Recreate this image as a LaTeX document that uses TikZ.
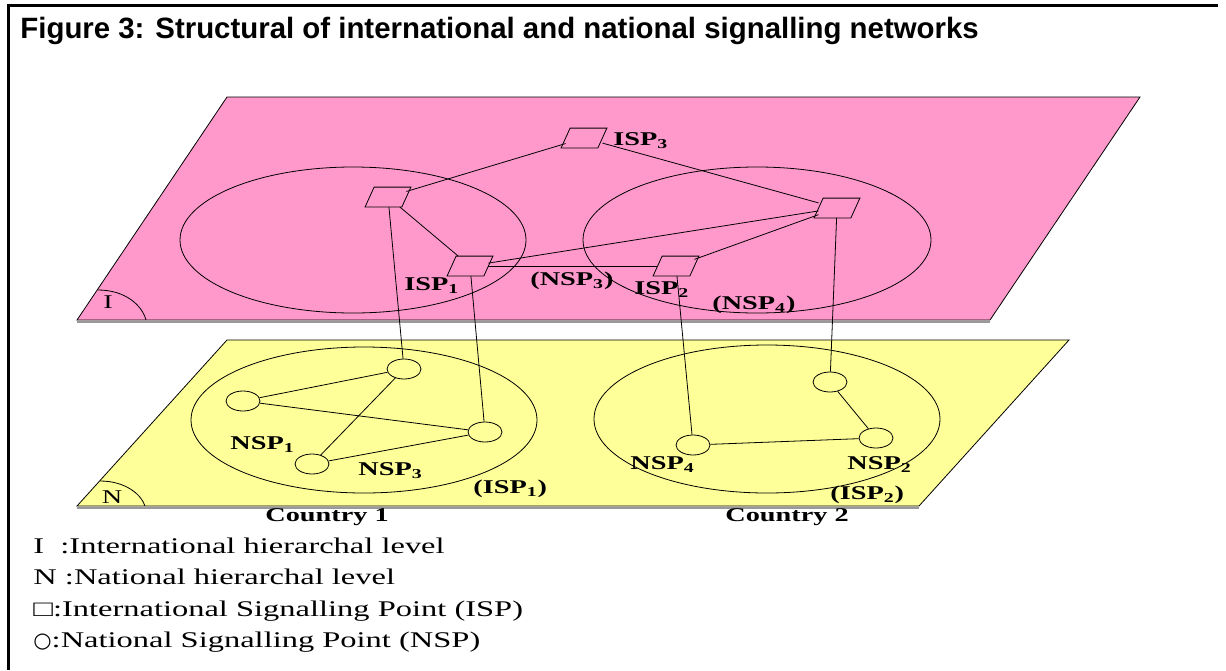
\documentclass[tikz,border=0pt]{standalone}
\usepackage{fontspec}
\setmainfont{Liberation Serif}
\newfontfamily\titlefont{Liberation Sans}
\newfontfamily\figfont[FakeStretch=1.45]{Liberation Serif}
\newfontfamily\symfont{DejaVu Sans}
\usetikzlibrary{shapes.geometric}
\definecolor{intpink}{RGB}{255,153,204}
\definecolor{natyellow}{RGB}{255,255,153}

\begin{document}
\begin{tikzpicture}[x=0.5pt,y=-0.5pt,
  isp/.style={rectangle,inner sep=0pt,minimum width=18pt,minimum height=9.5pt},
  nsp/.style={draw,fill=natyellow,ellipse,minimum width=17pt,minimum height=10pt,inner sep=0pt},
  lbl/.style={font=\figfont\bfseries\fontsize{9.75}{10}\selectfont,inner sep=0pt,anchor=base west},
  legend/.style={font=\figfont\fontsize{11.2}{12}\selectfont,inner sep=0pt,anchor=base west}]
\useasboundingbox (0,0) rectangle (1226,670);

%Frame and title
\draw[line width=1.5pt] (8,670)--(8,5)--(1218,5);
\node[anchor=base west,inner sep=0pt,font=\titlefont\bfseries\fontsize{14.7}{16}\selectfont] (title) at (20,38)
  {Figure 3: Structural of international and national signalling networks};

%International plane
\draw[fill=intpink] (77,320)--(227,97)--(1140,97)--(990,320)--cycle;
\draw[black!40,line width=1pt] (77,321.5)--(990,321.5);
\draw (98,290) .. controls (125,290) and (142,305) .. (146,320);
\node[lbl,font=\figfont\fontsize{9.75}{10}\selectfont,anchor=center] (ilevel) at (108,302) {I};
\draw (353,240) ellipse [x radius=86.5pt,y radius=36.5pt];
\draw (757,240) ellipse [x radius=87pt,y radius=36.5pt];

%National plane
\draw[fill=natyellow] (77,506)--(227,340)--(1069,340)--(919,506)--cycle;
\draw[black!40,line width=1pt] (77,507.5)--(919,507.5);
\draw (100,481) .. controls (125,481) and (141,494) .. (145,506);
\node[lbl,font=\figfont\fontsize{9.75}{10}\selectfont,anchor=center] (nlevel) at (112,497) {N};
\draw (364,420) ellipse [x radius=86.5pt,y radius=36.5pt];
\draw (767,419) ellipse [x radius=86.5pt,y radius=37pt];

%ISP nodes
\node[isp] (isp3) at (584,138) {};
\node[isp] (ispl) at (388,197) {};
\node[isp] (isp1) at (470,266) {};
\node[isp] (isp2) at (676,266) {};
\node[isp] (ispr) at (837,208) {};
\foreach \n in {isp3,ispl,isp1,isp2,ispr}
  \draw[fill=intpink] ([xshift=-2.25pt]\n.south west)--([xshift=2.25pt]\n.north west)
    --([xshift=2.25pt]\n.north east)--([xshift=-2.25pt]\n.south east)--cycle;

%NSP nodes
\node[nsp] (nspt1) at (404,369) {};
\node[nsp] (nsp1) at (243,401) {};
\node[nsp] (nspr1) at (485,432) {};
\node[nsp] (nsp3) at (312,464) {};
\node[nsp] (nspt2) at (830,382) {};
\node[nsp] (nsp4) at (693,445) {};
\node[nsp] (nsp2) at (876,438) {};

%Links in international level
\draw (isp3)--(ispl);
\draw (isp3)--(ispr);
\draw (ispl)--(isp1);
\draw (isp1)--(ispr);
\draw (isp1)--(isp2);
\draw (isp2)--(ispr);

%Links between levels
\draw (ispl)--(nspt1);
\draw (isp1)--(nspr1);
\draw (isp2)--(nsp4);
\draw (ispr)--(nspt2);

%Links in national level
\draw (nsp1)--(nspt1);
\draw (nsp1)--(nspr1);
\draw (nspt1)--(nsp3);
\draw (nsp3)--(nspr1);
\draw (nsp4)--(nsp2);
\draw (nspt2)--(nsp2);

%Labels
\node[lbl] (lisp3) at (613,145) {ISP\textsubscript{3}};
\node[lbl] (lisp1) at (404,290) {ISP\textsubscript{1}};
\node[lbl] (lisp2) at (634,294) {ISP\textsubscript{2}};
\node[lbl] (lnsp3a) at (530,285) {(NSP\textsubscript{3})};
\node[lbl] (lnsp4a) at (712,309) {(NSP\textsubscript{4})};
\node[lbl] (lnsp1) at (230,449) {NSP\textsubscript{1}};
\node[lbl] (lnsp3) at (358,475) {NSP\textsubscript{3}};
\node[lbl] (lisp1b) at (473,493) {(ISP\textsubscript{1})};
\node[lbl] (lnsp4) at (630,469) {NSP\textsubscript{4}};
\node[lbl] (lnsp2) at (847,469) {NSP\textsubscript{2}};
\node[lbl] (lisp2b) at (830,499) {(ISP\textsubscript{2})};
\node[lbl] (country1) at (265,521) {Country 1};
\node[lbl] (country2) at (725,521) {Country 2};

%Legend
\node[legend] (leg1) at (33,553) {I\ \ :International hierarchal level};
\node[legend] (leg2) at (33,584) {N :National hierarchal level};
\node[legend] (leg3) at (33,616) {□:International Signalling Point (ISP)};
\node[legend] (leg4) at (33,647) {{\symfont\fontsize{10.5}{11}\selectfont ○}:National Signalling Point (NSP)};
\end{tikzpicture}
\end{document}
